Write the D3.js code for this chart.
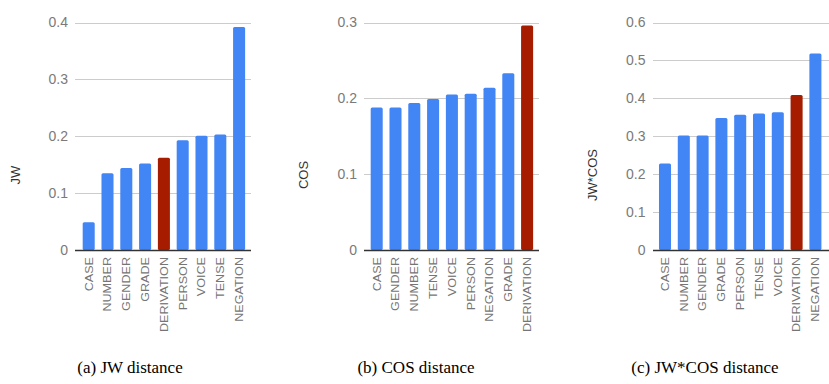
<!DOCTYPE html>
<html>
<head>
<meta charset="utf-8">
<script src="https://cdnjs.cloudflare.com/ajax/libs/d3/7.8.5/d3.min.js"></script>
<style>
  body { margin: 0; background: #fff; }
  svg text { font-family: Arial, "Liberation Sans", sans-serif; }
</style>
</head>
<body>
<svg id="chart" width="829" height="384"></svg>
<script>
// panel (a) JW distance
let jwCats = ["CASE", "NUMBER", "GENDER", "GRADE", "DERIVATION", "PERSON", "VOICE", "TENSE", "NEGATION"];
let jwVals = [0.049, 0.135, 0.144, 0.152, 0.162, 0.193, 0.201, 0.203, 0.392];
let jwTicks = [0, 0.1, 0.2, 0.3, 0.4];

// panel (b) COS distance
let cosCats = ["CASE", "GENDER", "NUMBER", "TENSE", "VOICE", "PERSON", "NEGATION", "GRADE", "DERIVATION"];
let cosVals = [0.188, 0.188, 0.194, 0.199, 0.205, 0.206, 0.214, 0.233, 0.296];
let cosTicks = [0, 0.1, 0.2, 0.3];

// panel (c) JW*COS distance
let jwcosCats = ["CASE", "NUMBER", "GENDER", "GRADE", "PERSON", "TENSE", "VOICE", "DERIVATION", "NEGATION"];
let jwcosVals = [0.228, 0.302, 0.302, 0.348, 0.357, 0.360, 0.363, 0.409, 0.518];
let jwcosTicks = [0, 0.1, 0.2, 0.3, 0.4, 0.5, 0.6];

let highlight = "DERIVATION";
let captions = ["(a) JW distance", "(b) COS distance", "(c) JW*COS distance"];
let yTitles = ["JW", "COS", "JW*COS"];

let svg = d3.select("svg#chart");

let panels = [
    { cats: jwCats, vals: jwVals, ticks: jwTicks, x0: 79.3, gridL: 75, gridR: 251, labelR: 68, titleX: 15.5, capX: 130 },
    { cats: cosCats, vals: cosVals, ticks: cosTicks, x0: 367.3, gridL: 364, gridR: 539, labelR: 357, titleX: 303.5, capX: 416 },
    { cats: jwcosCats, vals: jwcosVals, ticks: jwcosTicks, x0: 655.6, gridL: 653, gridR: 829, labelR: 645.5, titleX: 592, capX: 705 }
];

let plotTop = 22.5;
let plotBottom = 250;
let step = 18.8;

panels.forEach(function (p, i) {
    let g = svg.append("g");
    let yScale = d3.scaleLinear()
        .domain([0, d3.max(p.ticks)])
        .range([plotBottom, plotTop]);
    let xScale = d3.scaleBand()
        .domain(p.cats)
        .range([p.x0, p.x0 + step * p.cats.length])
        .paddingInner(0.36)
        .paddingOuter(0.18);

    // gridlines
    g.selectAll("line.grid")
        .data(p.ticks.filter(t => t > 0))
        .enter().append("line")
        .attr("class", "grid")
        .attr("x1", p.gridL).attr("x2", p.gridR)
        .attr("y1", d => Math.round(yScale(d)) + 0.5)
        .attr("y2", d => Math.round(yScale(d)) + 0.5)
        .attr("stroke", "#cccccc")
        .attr("stroke-width", 1);

    // tick labels
    let yAxis = d3.axisLeft(yScale).tickValues(p.ticks).tickSize(0).tickPadding(0)
        .tickFormat(d => d === 0 ? "0" : d3.format(".1f")(d));
    let ax = g.append("g")
        .attr("transform", "translate(" + p.labelR + ",0)")
        .call(yAxis);
    ax.select("path.domain").remove();
    ax.selectAll("text")
        .attr("fill", "#7a7a7a")
        .style("font-size", "14px");

    // bars
    g.selectAll("rect.bar")
        .data(p.cats)
        .enter().append("rect")
        .attr("class", "bar")
        .attr("x", d => xScale(d))
        .attr("width", xScale.bandwidth())
        .attr("y", (d, k) => yScale(p.vals[k]))
        .attr("height", (d, k) => plotBottom - yScale(p.vals[k]))
        .attr("rx", 1.5)
        .attr("fill", d => d === highlight ? "#a61c00" : "#4285f4");

    // baseline
    g.append("line")
        .attr("x1", p.gridL).attr("x2", p.gridR)
        .attr("y1", plotBottom + 0.5).attr("y2", plotBottom + 0.5)
        .attr("stroke", "#333333")
        .attr("stroke-width", 1.3);

    // x labels (rotated, a bit narrow like the original)
    let xAxis = d3.axisBottom(xScale).tickSize(0).tickPadding(0);
    let xa = g.append("g")
        .attr("transform", "translate(0," + (plotBottom + 7) + ")")
        .call(xAxis);
    xa.select("path.domain").remove();
    xa.selectAll("text")
        .attr("transform", "scale(0.88,1)rotate(-90)")
        .attr("x", 0)
        .attr("y", 0)
        .attr("dy", "0.35em")
        .style("text-anchor", "end")
        .style("font-size", "12.6px")
        .attr("fill", "#757575");

    // y title
    g.append("text")
        .attr("transform", "translate(" + p.titleX + "," + 175 + ")rotate(-90)")
        .attr("dy", "0.35em")
        .style("text-anchor", "middle")
        .style("font-size", "13px")
        .attr("fill", "#333333")
        .text(yTitles[i]);

    // caption
    svg.append("text")
        .attr("x", p.capX)
        .attr("y", 373)
        .style("text-anchor", "middle")
        .style("font-family", "'Liberation Serif', 'Times New Roman', serif")
        .style("font-size", "17px")
        .attr("fill", "#000")
        .text(captions[i]);
});
</script>
</body>
</html>
